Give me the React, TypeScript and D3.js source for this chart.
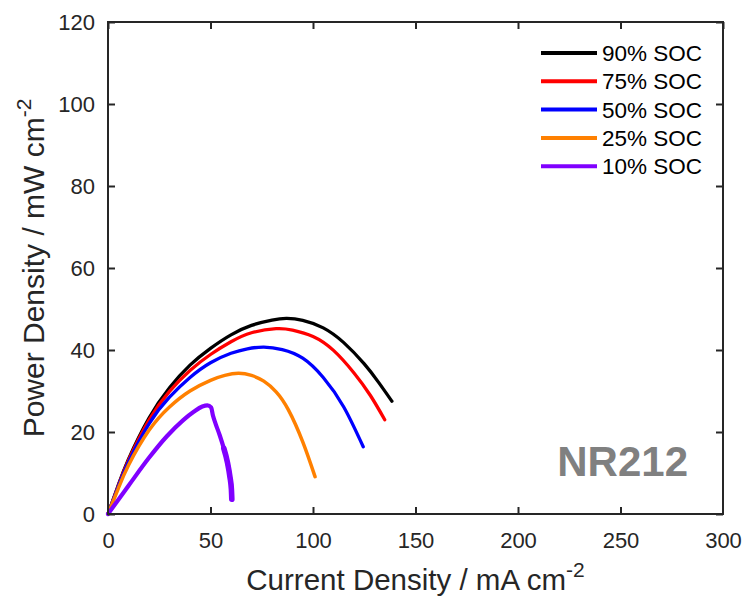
import { useEffect, useRef } from "react";
import * as d3 from "d3";

// values
const xTicks = [0, 50, 100, 150, 200, 250, 300];
const yTicks = [0, 20, 40, 60, 80, 100, 120];

const seriesNames = ["90% SOC", "75% SOC", "50% SOC", "25% SOC", "10% SOC"];
const seriesColors = ["#000000", "#ff0000", "#0000ff", "#ff8000", "#8000ff"];

const soc90X = [0, 5, 10, 20, 30, 40, 50, 60, 70, 80, 87, 95, 105, 115, 125, 132, 138.5];
const soc90Y = [0, 7.0, 13.4, 23.4, 30.8, 36.3, 40.4, 43.7, 46.0, 47.3, 47.7, 47.25, 45.4, 41.8, 36.6, 32.1, 27.5];

const soc75X = [0, 5, 10, 20, 30, 40, 50, 60, 70, 82, 90, 100, 110, 120, 128, 135];
const soc75Y = [0, 6.9, 13.1, 22.9, 29.9, 35.0, 38.9, 42.0, 44.2, 45.2, 44.85, 43.3, 39.9, 34.4, 28.9, 23.0];

const soc50X = [0, 5, 10, 20, 30, 40, 50, 60, 68, 76, 85, 95, 105, 115, 124.5];
const soc50Y = [0, 6.7, 12.7, 22.0, 28.5, 33.3, 36.9, 39.2, 40.3, 40.7, 40.1, 38.0, 33.3, 26.1, 16.4];

const soc25X = [0, 5, 10, 20, 30, 40, 50, 57, 63.6, 70, 76, 82, 88, 95, 101];
const soc25Y = [0, 6.2, 11.9, 20.4, 26.1, 30.0, 32.6, 33.8, 34.3, 33.8, 32.4, 29.8, 25.4, 17.6, 9.1];

const soc10X = [0, 10, 20, 28.6, 36.7, 42, 46, 48.5, 50.3, 51.2, 52.5, 54.5, 56.5, 58.3, 59.5, 60.2, 60.4];
const soc10Y = [0, 6.9, 13.7, 18.9, 22.9, 25.0, 26.2, 26.5, 26.0, 24.0, 22.0, 19.2, 16.0, 12.5, 9.0, 6.0, 3.6];

const seriesX = [soc90X, soc75X, soc50X, soc25X, soc10X];
const seriesY = [soc90Y, soc75Y, soc50Y, soc25Y, soc10Y];
const seriesWidths = [3.3, 3.3, 3.3, 3.5, 4.2];

const width = 746;
const height = 599;
const margin = { top: 22, right: 23, bottom: 85, left: 108 };
const axisColor = "#262626";
const font = "Arial, 'Liberation Sans', sans-serif";

export default function App() {
  const svgRef = useRef<SVGSVGElement | null>(null);

  useEffect(() => {
    const svg = d3.select(svgRef.current);
    svg.selectAll("*").remove();

    const plotW = width - margin.left - margin.right;
    const plotH = height - margin.top - margin.bottom;

    const x = d3.scaleLinear().domain([0, 300]).range([0, plotW]);
    const y = d3.scaleLinear().domain([0, 120]).range([plotH, 0]);

    const chart = svg
      .append("g")
      .attr("transform", `translate(${margin.left}, ${margin.top})`);

    // curves: smooth spline for the regular ones, monotone for the 10% one with its sharp drop
    const smoothLine = d3
      .line<[number, number]>()
      .x((d) => x(d[0]))
      .y((d) => y(d[1]))
      .curve(d3.curveNatural);
    const line = d3
      .line<[number, number]>()
      .x((d) => x(d[0]))
      .y((d) => y(d[1]))
      .curve(d3.curveMonotoneX);

    seriesX.forEach((xs, i) => {
      const pts = xs.map((v, j) => [v, seriesY[i][j]] as [number, number]);
      chart
        .append("path")
        .attr("d", i < 4 ? smoothLine(pts) : line(pts))
        .attr("fill", "none")
        .attr("stroke", seriesColors[i])
        .attr("stroke-width", seriesWidths[i])
        .attr("stroke-linejoin", "round")
        .attr("stroke-linecap", "round");
      if (i === 4) {
        // the 10% tail is noisy and looks thicker
        const tail = pts.filter((p) => p[0] >= 56.5);
        chart
          .append("path")
          .attr("d", line(tail))
          .attr("fill", "none")
          .attr("stroke", seriesColors[i])
          .attr("stroke-width", 5.6)
          .attr("stroke-linecap", "round");
      }
    });

    // axes, box style with inward ticks
    const tickLen = 7;
    const styleAxis = (g: any) => {
      g.select(".domain").remove();
      g.selectAll("line").attr("stroke", axisColor).attr("stroke-width", 2);
      g.selectAll("text")
        .attr("fill", axisColor)
        .style("font-family", font)
        .style("font-size", "22px");
    };

    chart
      .append("g")
      .attr("transform", `translate(0, ${plotH})`)
      .call(d3.axisBottom(x).tickValues(xTicks).tickSize(-tickLen).tickPadding(18))
      .call(styleAxis)
      .selectAll("line")
      .filter((d: any) => d === 0 || d === 300)
      .remove();

    chart
      .append("g")
      .call(d3.axisTop(x).tickValues(xTicks).tickSize(-tickLen).tickFormat(() => ""))
      .call(styleAxis);

    chart
      .append("g")
      .call(d3.axisLeft(y).tickValues(yTicks).tickSize(-tickLen).tickPadding(13))
      .call(styleAxis);

    chart
      .append("g")
      .attr("transform", `translate(${plotW}, 0)`)
      .call(d3.axisRight(y).tickValues(yTicks).tickSize(-tickLen).tickFormat(() => ""))
      .call(styleAxis);

    chart
      .append("rect")
      .attr("x", 0)
      .attr("y", 0)
      .attr("width", plotW)
      .attr("height", plotH)
      .attr("fill", "none")
      .attr("stroke", axisColor)
      .attr("stroke-width", 2);

    // axis titles
    const xTitle = svg
      .append("text")
      .attr("x", margin.left + plotW / 2)
      .attr("y", 590)
      .attr("text-anchor", "middle")
      .attr("fill", axisColor)
      .style("font-family", font)
      .style("font-size", "29.5px");
    xTitle.append("tspan").text("Current Density / mA cm");
    xTitle.append("tspan").attr("dy", -13).style("font-size", "21px").text("-2");

    const yTitle = svg
      .append("text")
      .attr("transform", `translate(44, ${margin.top + plotH / 2}) rotate(-90)`)
      .attr("text-anchor", "middle")
      .attr("fill", axisColor)
      .style("font-family", font)
      .style("font-size", "30px");
    yTitle.append("tspan").text("Power Density / mW cm");
    yTitle.append("tspan").attr("dy", -13).style("font-size", "21px").text("-2");

    // legend
    const legend = svg.append("g").attr("transform", "translate(541, 53)");
    seriesNames.forEach((name, i) => {
      const row = legend.append("g").attr("transform", `translate(0, ${i * 28.3})`);
      row
        .append("line")
        .attr("x1", 0)
        .attr("x2", 56)
        .attr("stroke", seriesColors[i])
        .attr("stroke-width", 4);
      row
        .append("text")
        .attr("x", 61)
        .attr("y", 8)
        .attr("fill", "#000")
        .style("font-family", font)
        .style("font-size", "22.5px")
        .text(name);
    });

    // membrane label
    svg
      .append("text")
      .attr("x", 688)
      .attr("y", 476)
      .attr("text-anchor", "end")
      .attr("fill", "#808080")
      .style("font-family", font)
      .style("font-weight", "bold")
      .style("font-size", "42px")
      .text("NR212");
  }, []);

  return (
    <svg
      ref={svgRef}
      width={width}
      height={height}
      style={{ position: "absolute", left: 0, top: 0, background: "#fff" }}
    />
  );
}
